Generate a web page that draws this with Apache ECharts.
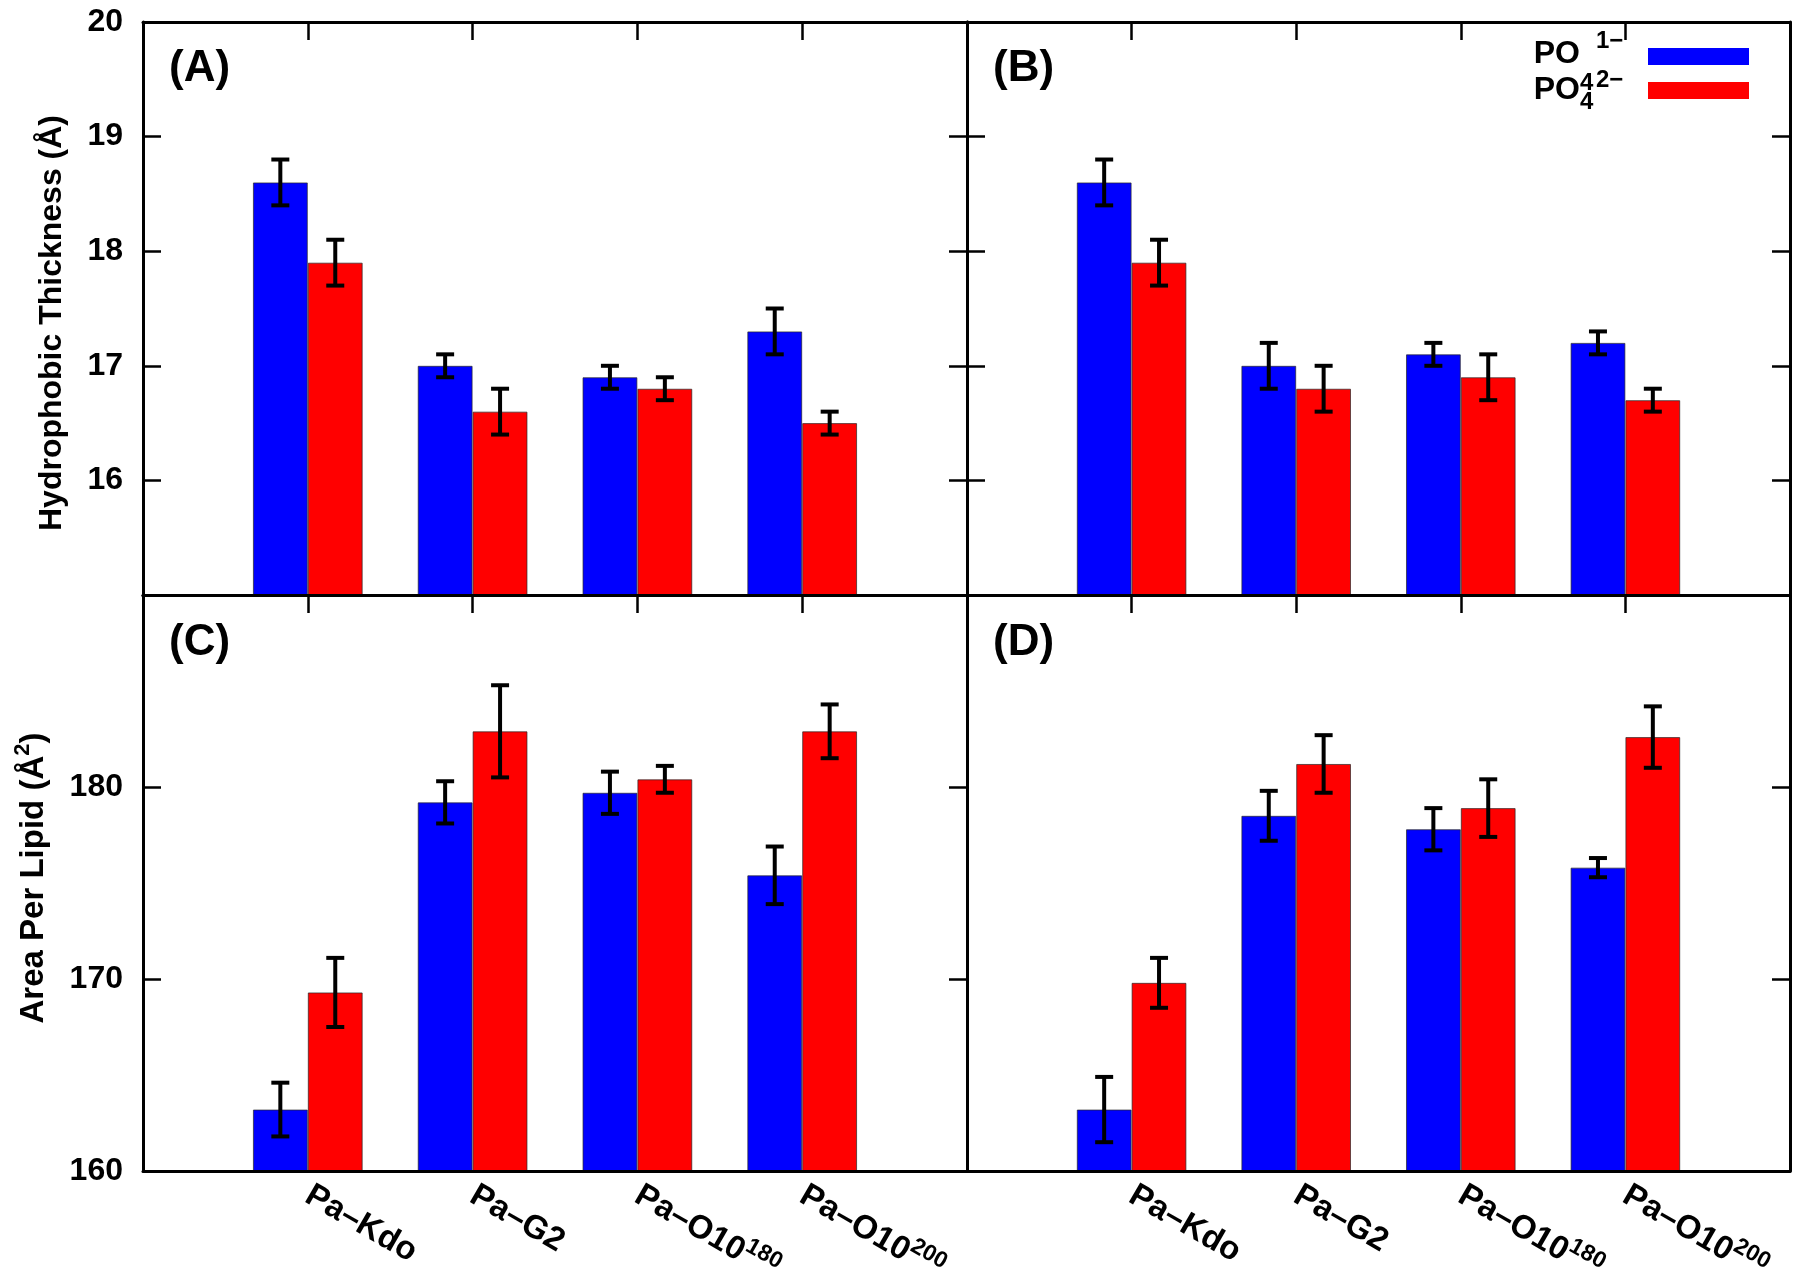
<!DOCTYPE html>
<html><head><meta charset="utf-8">
<script src="https://cdn.jsdelivr.net/npm/echarts@6/dist/echarts.min.js"></script>
<style>html,body{margin:0;padding:0;background:#fff}#c{width:1800px;height:1274px}</style>
</head><body><div id="c"></div><script>
// ---------- data ----------
const categories = ['Pa–Kdo', 'Pa–G2', 'Pa–O10^180', 'Pa–O10^200'];
const seriesNames = ['PO4_1', 'PO4_2'];
const legendCharges = ['1−', '2−'];

const thickA_PO1 = [18.6, 17.0, 16.9, 17.3];
const thickA_PO1_err = [0.2, 0.1, 0.1, 0.2];
const thickA_PO2 = [17.9, 16.6, 16.8, 16.5];
const thickA_PO2_err = [0.2, 0.2, 0.1, 0.1];

const thickB_PO1 = [18.6, 17.0, 17.1, 17.2];
const thickB_PO1_err = [0.2, 0.2, 0.1, 0.1];
const thickB_PO2 = [17.9, 16.8, 16.9, 16.7];
const thickB_PO2_err = [0.2, 0.2, 0.2, 0.1];

const areaC_PO1 = [163.2, 179.2, 179.7, 175.4];
const areaC_PO1_err = [1.4, 1.1, 1.1, 1.5];
const areaC_PO2 = [169.3, 182.9, 180.4, 182.9];
const areaC_PO2_err = [1.8, 2.4, 0.7, 1.4];

const areaD_PO1 = [163.2, 178.5, 177.8, 175.8];
const areaD_PO1_err = [1.7, 1.3, 1.1, 0.5];
const areaD_PO2 = [169.8, 181.2, 178.9, 182.6];
const areaD_PO2_err = [1.3, 1.5, 1.5, 1.6];

const thickRange = [15, 20, 1];
const areaRange = [160, 190, 10];
const panelLabels = ['(A)', '(B)', '(C)', '(D)'];
const yTitleTop = 'Hydrophobic Thickness (Å)';
const yTitleBottom = ['Area Per Lipid (Å', '2', ')'];

// ---------- layout / style ----------
const FONT = '"Liberation Sans", Arial, Helvetica, sans-serif';
const BLUE = '#0000ff', RED = '#ff0000';
const grids = [
  {left: 143, top: 22, width: 824, height: 573, outerBoundsMode: 'none', containLabel: false},
  {left: 967, top: 22, width: 823, height: 573, outerBoundsMode: 'none', containLabel: false},
  {left: 143, top: 595, width: 824, height: 576, outerBoundsMode: 'none', containLabel: false},
  {left: 967, top: 595, width: 823, height: 576, outerBoundsMode: 'none', containLabel: false}
];
const panels = [
  {po1: thickA_PO1, e1: thickA_PO1_err, po2: thickA_PO2, e2: thickA_PO2_err, range: thickRange},
  {po1: thickB_PO1, e1: thickB_PO1_err, po2: thickB_PO2, e2: thickB_PO2_err, range: thickRange},
  {po1: areaC_PO1, e1: areaC_PO1_err, po2: areaC_PO2, e2: areaC_PO2_err, range: areaRange},
  {po1: areaD_PO1, e1: areaD_PO1_err, po2: areaD_PO2, e2: areaD_PO2_err, range: areaRange}
];
const axisCats = [''].concat(categories).concat([' ']);

function catFmt(v) {
  if (!v || !v.trim()) return '';
  const p = v.split('^');
  return p.length > 1 ? '{b|' + p[0] + '}{s|' + p[1] + '}' : '{b|' + v + '}';
}
const catRich = {
  b: {fontSize: 33, fontWeight: 'bold', fontFamily: FONT, color: '#000', lineHeight: 44, verticalAlign: 'middle'},
  s: {fontSize: 23, fontWeight: 'bold', fontFamily: FONT, color: '#000', lineHeight: 22, verticalAlign: 'top'}
};
const lineSt = {color: '#000', width: 3};
const tickSt = {color: '#000', width: 2.5};

const xAxes = [], yAxes = [], series = [];
grids.forEach((g, gi) => {
  const r = panels[gi].range;
  xAxes.push({
    type: 'category', gridIndex: gi, data: axisCats, boundaryGap: false, position: 'bottom', z: 10,
    axisLine: {show: true, onZero: false, lineStyle: lineSt},
    axisTick: {show: false},
    axisLabel: {show: gi >= 2, interval: 0, rotate: -30, margin: 22, formatter: catFmt, rich: catRich},
    splitLine: {show: false}
  });
  xAxes.push({
    type: 'category', gridIndex: gi, data: axisCats, boundaryGap: false, position: 'top', z: 10,
    axisLine: {show: true, onZero: false, lineStyle: lineSt},
    axisTick: {show: true, inside: true, length: 18, interval: 0, lineStyle: tickSt},
    axisLabel: {show: false}, splitLine: {show: false}
  });
  yAxes.push({
    type: 'value', gridIndex: gi, position: 'left', min: r[0], max: r[1], interval: r[2], z: 10,
    axisLine: {show: true, lineStyle: lineSt},
    axisTick: {show: gi !== 3, inside: true, length: 18, lineStyle: tickSt},
    axisLabel: {show: gi === 0 || gi === 2, margin: 20, fontSize: 32, fontWeight: 'bold', fontFamily: FONT, color: '#000',
      showMinLabel: gi !== 0, showMaxLabel: gi !== 2},
    splitLine: {show: false}
  });
  yAxes.push({
    type: 'value', gridIndex: gi, position: 'right', min: r[0], max: r[1], interval: r[2], z: 10,
    axisLine: {show: true, lineStyle: lineSt},
    axisTick: {show: true, inside: true, length: 18, lineStyle: tickSt},
    axisLabel: {show: false}, splitLine: {show: false}
  });
  const P = panels[gi];
  [[P.po1, BLUE, seriesNames[0]], [P.po2, RED, seriesNames[1]]].forEach(([vals, col, nm]) => {
    series.push({
      type: 'bar', name: nm, xAxisIndex: 2 * gi, yAxisIndex: 2 * gi, barWidth: '33.3%', barGap: '0%',
      itemStyle: {color: col, borderColor: 'rgba(40,40,40,0.7)', borderWidth: 1},
      data: vals.map((v, i) => [i + 1, v]), z: 2
    });
  });
  [[P.po1, P.e1, -1, seriesNames[0]], [P.po2, P.e2, 1, seriesNames[1]]].forEach(([vals, errs, side, nm]) => {
    series.push({
      type: 'custom', name: nm, xAxisIndex: 2 * gi, yAxisIndex: 2 * gi, z: 5,
      itemStyle: {color: '#000'},
      data: vals.map((v, i) => [i + 1, v - errs[i], v + errs[i]]),
      renderItem: function (params, api) {
        const step = api.size([1, 0])[0];
        const bw = step / 3;
        const lo = api.coord([api.value(0), api.value(1)]);
        const hi = api.coord([api.value(0), api.value(2)]);
        const xc = lo[0] + side * bw / 2;
        const cap = 9;
        const st = {stroke: '#000', lineWidth: 4};
        return {type: 'group', children: [
          {type: 'line', shape: {x1: xc, y1: lo[1], x2: xc, y2: hi[1]}, style: st},
          {type: 'line', shape: {x1: xc - cap, y1: lo[1], x2: xc + cap, y2: lo[1]}, style: st},
          {type: 'line', shape: {x1: xc - cap, y1: hi[1], x2: xc + cap, y2: hi[1]}, style: st}
        ]};
      }
    });
  });
});

function mkLegend(name, top) {
  return {data: [name], right: 51, top: top, padding: 0, orient: 'vertical', align: 'right', icon: 'rect',
    itemWidth: 101, itemHeight: 17, formatter: function () { return ''; },
    itemStyle: {borderWidth: 0}};
}

const panelPos = [[169, 69], [993, 69], [169, 643], [993, 643]];
const graphics = panelLabels.map((t, i) => ({
  type: 'text', x: panelPos[i][0], y: panelPos[i][1], z: 20,
  style: {text: t, fontSize: 44, fontWeight: 'bold', fontFamily: FONT, fill: '#000', align: 'left', verticalAlign: 'middle'}
}));
graphics.push({
  type: 'text', x: 52, y: 323, rotation: Math.PI / 2, z: 20,
  style: {text: yTitleTop, fontSize: 32, fontWeight: 'bold', fontFamily: FONT, fill: '#000', align: 'center', verticalAlign: 'middle'}
});
graphics.push({
  type: 'text', x: 34, y: 878, rotation: Math.PI / 2, z: 20,
  style: {text: '{t|' + yTitleBottom[0] + '}{s|' + yTitleBottom[1] + '}{t|' + yTitleBottom[2] + '}',
    align: 'center', verticalAlign: 'middle',
    rich: {t: {fontSize: 33, fontWeight: 'bold', fontFamily: FONT, fill: '#000', lineHeight: 44, verticalAlign: 'middle'},
           s: {fontSize: 22, fontWeight: 'bold', fontFamily: FONT, fill: '#000', lineHeight: 22, verticalAlign: 'top'}}}
});
// legend labels: PO, subscript 4, superscript charge
const legRows = [{po: 54, sub: 83.5, sup: 41.5}, {po: 90, sub: 102.5, sup: 80.5}];
legRows.forEach((row, i) => {
  const base = {fontWeight: 'bold', fontFamily: FONT, fill: '#000', verticalAlign: 'middle'};
  graphics.push({type: 'text', x: 1580, y: row.po, z: 20, style: Object.assign({text: 'PO', fontSize: 32, align: 'right'}, base)});
  graphics.push({type: 'text', x: 1580, y: row.sub, z: 20, style: Object.assign({text: '4', fontSize: 24, align: 'left'}, base)});
  graphics.push({type: 'text', x: 1596, y: row.sup, z: 20, style: Object.assign({text: legendCharges[i], fontSize: 24, align: 'left'}, base)});
});

const chart = echarts.init(document.getElementById('c'), null, {renderer: 'canvas'});
chart.setOption({
  backgroundColor: '#fff',
  animation: false,
  grid: grids,
  xAxis: xAxes,
  yAxis: yAxes,
  series: series,
  legend: [mkLegend(seriesNames[0], 48), mkLegend(seriesNames[1], 82)],
  graphic: graphics
});
</script></body></html>
